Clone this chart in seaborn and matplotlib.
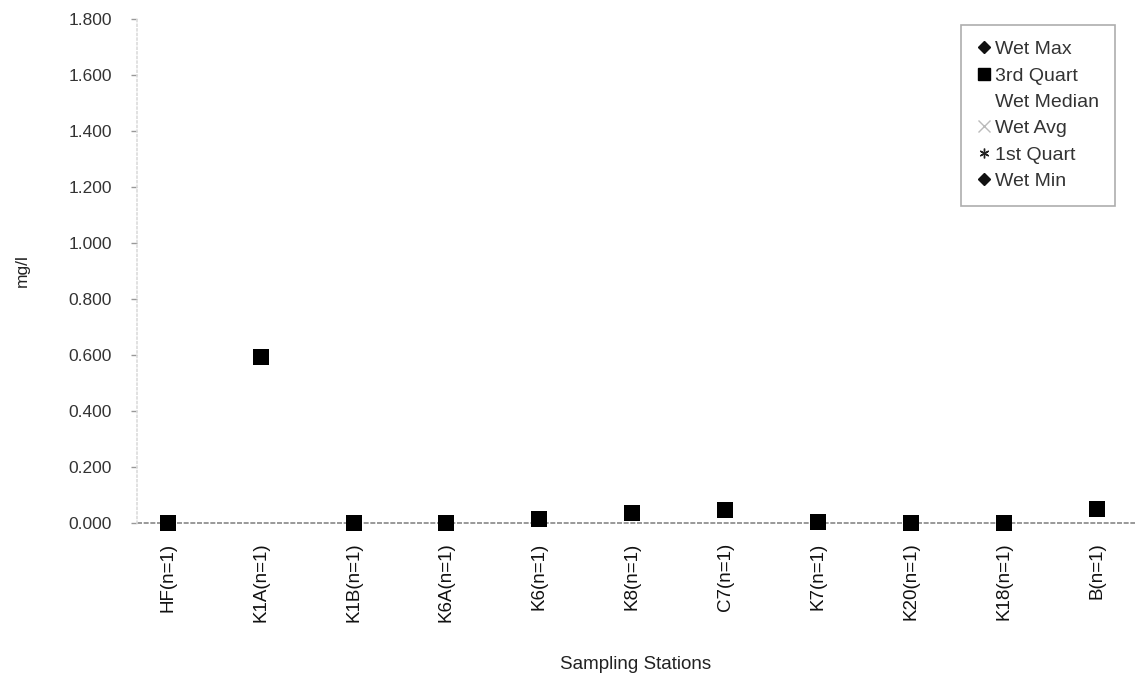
import matplotlib
matplotlib.use("Agg")
import matplotlib.pyplot as plt
from matplotlib.lines import Line2D
import numpy as np
import pandas as pd
import seaborn as sns

# Sampling stations (one wet-season sample each)
stations = ["HF(n=1)", "K1A(n=1)", "K1B(n=1)", "K6A(n=1)", "K6(n=1)", "K8(n=1)",
            "C7(n=1)", "K7(n=1)", "K20(n=1)", "K18(n=1)", "B(n=1)"]

# Wet-season statistics, mg/l
wet_max    = [0.000, 0.593, 0.001, 0.001, 0.013, 0.036, 0.045, 0.002, 0.001, 0.001, 0.049]
quart_3rd  = [0.000, 0.593, 0.001, 0.001, 0.013, 0.036, 0.045, 0.002, 0.001, 0.001, 0.049]
wet_median = [0.000, 0.593, 0.001, 0.001, 0.013, 0.036, 0.045, 0.002, 0.001, 0.001, 0.049]
wet_avg    = [0.000, 0.593, 0.001, 0.001, 0.013, 0.036, 0.045, 0.002, 0.001, 0.001, 0.049]
quart_1st  = [0.000, 0.593, 0.001, 0.001, 0.013, 0.036, 0.045, 0.002, 0.001, 0.001, 0.049]
wet_min    = [0.000, 0.593, 0.001, 0.001, 0.013, 0.036, 0.045, 0.002, 0.001, 0.001, 0.049]

y_ticks = [0.0, 0.2, 0.4, 0.6, 0.8, 1.0, 1.2, 1.4, 1.6, 1.8]

sns.set_theme(style="white")
plt.rcParams["font.family"] = ["Liberation Sans", "DejaVu Sans"]

# series name -> (values, marker, colour, size); drawn in this order
series = [
    ("Wet Max",    wet_max,    "D", "#111111", 40),
    ("Wet Median", wet_median, "_", "#ffffff", 1),
    ("Wet Avg",    wet_avg,    "x", "#bbbbbb", 40),
    ("1st Quart",  quart_1st,  (6, 2, 0), "#222222", 40),
    ("Wet Min",    wet_min,    "D", "#111111", 40),
    ("3rd Quart",  quart_3rd,  "s", "#000000", 130),
]

frames = []
for name, vals, *_ in series:
    frames.append(pd.DataFrame({"station": stations, "value": vals, "stat": name}))
data = pd.concat(frames, ignore_index=True)

fig = plt.figure(figsize=(11.35, 6.77), dpi=100)
ax = fig.add_axes([0.1207, 0.2275, 0.8793, 0.7445])

ax.axhline(0, color="#888888", lw=1.2, ls=(0, (3, 1)), zorder=1, clip_on=False)

for name, vals, marker, color, size in series:
    sub = data[data["stat"] == name]
    sns.scatterplot(data=sub, x="station", y="value", marker=marker, color=color,
                    s=size, linewidth=1.0 if marker in ("x", (6, 2, 0)) else 0,
                    edgecolor=color, ax=ax, legend=False, zorder=3, clip_on=False)

ax.set_xlim(-0.33, 10.41)
ax.set_ylim(0, 1.8)
ax.set_yticks(y_ticks)
ax.set_yticklabels([f"{v:.3f}" for v in y_ticks], fontsize=12.5, color="#333333")
ax.set_xticks(range(len(stations)))
ax.set_xticklabels(stations, rotation=90, fontsize=13.5, color="#111111")
ax.tick_params(axis="x", length=0, pad=14)
ax.tick_params(axis="y", left=True, length=4, width=1, color="#999999", pad=14)

for side in ("top", "right", "bottom"):
    ax.spines[side].set_visible(False)
ax.spines["left"].set_color("#dddddd")
ax.spines["left"].set_linestyle(":")

ax.set_xlabel("Sampling Stations", fontsize=13.5, color="#222222", labelpad=24)
ax.set_ylabel("mg/l", fontsize=12.5, color="#222222", labelpad=28)

legend_order = ["Wet Max", "3rd Quart", "Wet Median", "Wet Avg", "1st Quart", "Wet Min"]
style = {name: (marker, color) for name, _, marker, color, _ in series}
sizes = {"Wet Max": 6, "3rd Quart": 8, "Wet Median": 1, "Wet Avg": 8, "1st Quart": 7, "Wet Min": 6}
handles = []
for name in legend_order:
    marker, color = style[name]
    handles.append(Line2D([], [], ls="none", marker=marker, color=color,
                          markersize=sizes[name], markeredgewidth=1.0))
leg = fig.legend(handles, legend_order, loc="upper right",
                 bbox_to_anchor=(1115 / 1135, 1 - 25 / 677), frameon=True,
                 fancybox=False, edgecolor="#999999", fontsize=14,
                 handlelength=0.7, handletextpad=0.25, labelspacing=0.45,
                 borderpad=0.8, borderaxespad=0)
leg.get_frame().set_linewidth(1.2)
for t in leg.get_texts():
    t.set_color("#333333")

fig.savefig("out.png", dpi=100)
